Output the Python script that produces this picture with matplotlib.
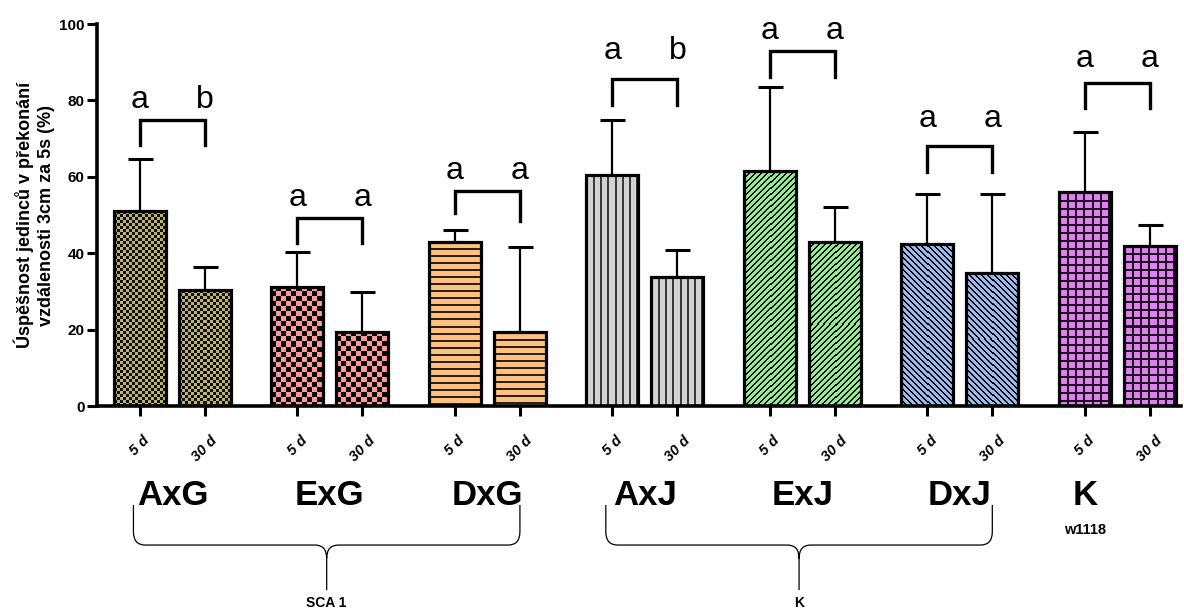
import numpy as np
import matplotlib
matplotlib.use("Agg")
import matplotlib.pyplot as plt
from matplotlib.colors import ListedColormap
from matplotlib.path import Path
from matplotlib.patches import PathPatch
from matplotlib import transforms

plt.rcParams['font.family'] = ['Liberation Sans', 'DejaVu Sans']

# data
groups = ['AxG', 'ExG', 'DxG', 'AxJ', 'ExJ', 'DxJ', 'K']
ages = ['5 d', '30 d']
mean_5d = [51.0, 31.2, 43.0, 60.4, 61.5, 42.3, 56.0]
mean_30d = [30.3, 19.5, 19.3, 33.9, 43.0, 34.9, 42.0]
sd_5d = [13.7, 9.2, 3.0, 14.5, 22.1, 13.3, 15.7]
sd_30d = [6.1, 10.4, 22.2, 7.0, 9.0, 20.6, 5.4]

letters_5d = ['a', 'a', 'a', 'a', 'a', 'a', 'a']
letters_30d = ['b', 'a', 'a', 'b', 'a', 'a', 'a']
letter_y = [80.1, 54.4, 61.4, 93.0, 98.1, 75.1, 90.8]
bracket_top = [75.0, 49.3, 56.2, 85.7, 93.0, 68.1, 84.5]
bracket_leg_l = [68.3, 42.8, 50.6, 78.7, 86.2, 61.2, 78.0]
bracket_leg_r = [68.3, 42.8, 48.5, 78.7, 86.2, 61.2, 78.0]

fills = ['#BDB370', '#FF9999', '#FFC080', '#D3D3D3', '#90EE90', '#99BBEE', '#E080F0']
line_cols = ['#111111', '#000000', '#2a2118', '#3a3a3a', '#000000', '#000000', '#1a1020']
patterns = ['checker3', 'checker5', 'hline', 'vline', 'fdiag', 'bdiag', 'grid']
label_shift = [0.5, 0.5, 0.5, 0.5, 0.5, 0.5, 0.0]

supergroups = [('SCA 1', 0, 2), ('K', 3, 5)]

step = 2.42
xs_5d = np.arange(len(groups)) * step
xs_30d = xs_5d + 1.0
bw = 0.8


def pattern(kind, h, w):
    i, j = np.indices((h, w))
    if kind == 'checker3':
        return (i // 3 + j // 3) % 2
    if kind == 'checker5':
        return (i // 5 + j // 5) % 2
    if kind == 'hline':
        return (i % 7 < 2).astype(int)
    if kind == 'vline':
        return (j % 7 < 2).astype(int)
    if kind == 'fdiag':
        return ((i + j) % 6 < 2).astype(int)
    if kind == 'bdiag':
        return ((j - i) % 6 < 2).astype(int)
    return ((i % 8 < 2) | (j % 8 < 2)).astype(int)


fig = plt.figure(figsize=(11.84, 6.11), dpi=100)
ax = fig.add_axes([97 / 1184, 205 / 611, 1084 / 1184, 382 / 611])
ax.set_xlim(-0.66, xs_30d[-1] + 0.48)
ax.set_ylim(0, 100)

for g in range(len(groups)):
    xs = [xs_5d[g], xs_30d[g]]
    ms = [mean_5d[g], mean_30d[g]]
    sds = [sd_5d[g], sd_30d[g]]
    bars = ax.bar(xs, ms, width=bw, color=fills[g], edgecolor='none', zorder=2)
    cmap = ListedColormap([fills[g], line_cols[g]])
    for b in bars:
        x0, x1 = b.get_x(), b.get_x() + b.get_width()
        p0 = ax.transData.transform((x0, 0))
        p1 = ax.transData.transform((x1, b.get_height()))
        w = max(1, int(round(p1[0] - p0[0])))
        h = max(1, int(round(p1[1] - p0[1])))
        im = ax.imshow(pattern(patterns[g], h, w), cmap=cmap, vmin=0, vmax=1,
                       extent=(x0, x1, 0, b.get_height()), aspect='auto',
                       interpolation='nearest', zorder=2.5)
        im.set_clip_path(b)
    ax.bar(xs, ms, width=bw, fill=False, edgecolor='black', linewidth=2.3, zorder=3)
    ax.errorbar(xs, ms, yerr=[[0, 0], sds], fmt='none', ecolor='black',
                elinewidth=1.6, capsize=9, capthick=2.2, zorder=1.5)

    # significance bracket and letters
    ax.plot([xs[0], xs[0], xs[1], xs[1]],
            [bracket_leg_l[g], bracket_top[g], bracket_top[g], bracket_leg_r[g]],
            color='black', linewidth=2.4, solid_joinstyle='miter', zorder=4)
    ax.text(xs[0], letter_y[g], letters_5d[g], ha='center', va='center', fontsize=23)
    ax.text(xs[1], letter_y[g], letters_30d[g], ha='center', va='center', fontsize=23)

ax.set_xticks(np.ravel(np.column_stack([xs_5d, xs_30d])))
ax.set_xticklabels(ages * len(groups), rotation=45, ha='center', va='top',
                   fontsize=10.5, fontweight='bold', fontstyle='italic')
ax.tick_params(axis='x', length=7, width=2.2, pad=13)
ax.set_yticks([0, 20, 40, 60, 80, 100])
ax.tick_params(axis='y', length=7, width=2.2, labelsize=11, pad=2)
for t in ax.get_yticklabels():
    t.set_fontweight('bold')

for s in ['top', 'right']:
    ax.spines[s].set_visible(False)
for s in ['left', 'bottom']:
    ax.spines[s].set_linewidth(2.6)

ax.text(-0.058, 0.5, 'Úspěšnost jedinců v překonání\nvzdálenosti 3cm za 5s (%)',
        transform=ax.transAxes, rotation=90, ha='center', va='center',
        fontsize=13, fontweight='bold', multialignment='center', linespacing=1.3)

blend = transforms.blended_transform_factory(ax.transData, ax.transAxes)
for g in range(len(groups)):
    ax.text(xs_5d[g] + label_shift[g], -0.233, groups[g], transform=blend,
            ha='center', va='center', fontsize=25, fontweight='bold')
ax.text(xs_5d[-1], -0.325, 'w1118', transform=blend, ha='center', va='center',
        fontsize=10.5, fontweight='bold')


def brace(x0, x1, yt, yh, yb, rx=0.18, ry=0.035):
    xm = (x0 + x1) / 2
    verts = [(x0, yt), (x0, yh + ry), (x0, yh), (x0 + rx, yh), (xm - rx, yh),
             (xm, yh), (xm, yh - ry),
             (x1, yt), (x1, yh + ry), (x1, yh), (x1 - rx, yh), (xm + rx, yh),
             (xm, yh), (xm, yh - ry), (xm, yb)]
    codes = [Path.MOVETO, Path.LINETO, Path.CURVE3, Path.CURVE3, Path.LINETO,
             Path.CURVE3, Path.CURVE3,
             Path.MOVETO, Path.LINETO, Path.CURVE3, Path.CURVE3, Path.LINETO,
             Path.CURVE3, Path.CURVE3, Path.LINETO]
    ax.add_patch(PathPatch(Path(verts, codes), transform=blend, fill=False,
                           edgecolor='black', linewidth=0.9, clip_on=False))
    return xm


for name, g0, g1 in supergroups:
    xm = brace(xs_5d[g0] - 0.1, xs_30d[g1], -0.259, -0.364, -0.482)
    ax.text(xm, -0.516, name, transform=blend, ha='center', va='center',
            fontsize=10, fontweight='bold')

fig.savefig('out.png', dpi=100)
